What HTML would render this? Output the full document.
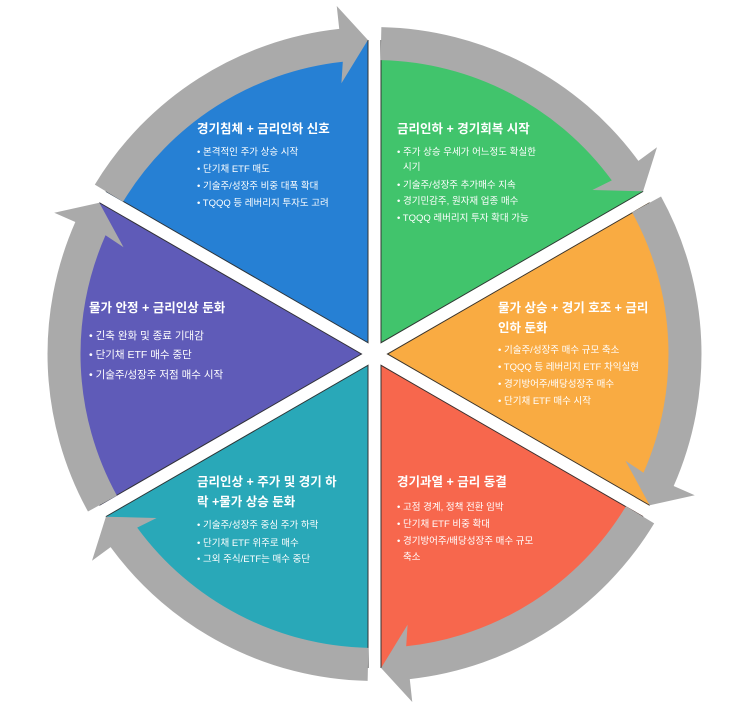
<!DOCTYPE html>
<html><head><meta charset="utf-8"><style>
html,body{margin:0;padding:0;background:#fff;width:743px;height:706px;overflow:hidden;}
svg{display:block;}
text{font-family:"Liberation Sans","Noto Sans CJK KR",sans-serif;fill:#fff;}
.t{font-size:12.5px;font-weight:bold;}
.b{font-size:9.5px;}
.p{font-size:10.5px;}
</style></head><body>
<svg width="743" height="706" viewBox="0 0 743 706" xmlns="http://www.w3.org/2000/svg">
<defs>
<path id="wedge" d="M374.5 354 L374.5 40 A314 314 0 0 1 646.4 197 Z"/>
<path id="arr" d="M381.35 27.1 A327 327 0 0 1 638.4 160.9 L657 147.3 L643.1 191.3 L592.4 190 L611.8 180.4 A294 294 0 0 0 380.66 60.1 Z" fill="#aaaaaa"/>
</defs>
<use href="#wedge" fill="#41c46c"/>
<use href="#wedge" fill="#f9ab42" transform="rotate(60 374.5 354)"/>
<use href="#wedge" fill="#f7674d" transform="rotate(120 374.5 354)"/>
<use href="#wedge" fill="#29a8b8" transform="rotate(180 374.5 354)"/>
<use href="#wedge" fill="#5f5bb8" transform="rotate(240 374.5 354)"/>
<use href="#wedge" fill="#2680d4" transform="rotate(300 374.5 354)"/>
<g stroke="#333" stroke-width="1">
<g><line x1="368" y1="40" x2="368" y2="668"/><line x1="381" y1="40" x2="381" y2="668"/></g>
<g transform="rotate(60 374.5 354)"><line x1="368" y1="40" x2="368" y2="668"/><line x1="381" y1="40" x2="381" y2="668"/></g>
<g transform="rotate(120 374.5 354)"><line x1="368" y1="40" x2="368" y2="668"/><line x1="381" y1="40" x2="381" y2="668"/></g>
</g>
<g stroke="#fff" stroke-width="12">
<line x1="374.5" y1="20" x2="374.5" y2="690"/>
<line x1="374.5" y1="20" x2="374.5" y2="690" transform="rotate(60 374.5 354)"/>
<line x1="374.5" y1="20" x2="374.5" y2="690" transform="rotate(120 374.5 354)"/>
</g>
<use href="#arr"/>
<use href="#arr" transform="rotate(60 374.5 354)"/>
<use href="#arr" transform="rotate(120 374.5 354)"/>
<use href="#arr" transform="rotate(180 374.5 354)"/>
<use href="#arr" transform="rotate(240 374.5 354)"/>
<use href="#arr" transform="rotate(300 374.5 354)"/>

<text class="t" x="197" y="133">경기침체 + 금리인하 신호</text>
<text class="b" x="197" y="155">• 본격적인 주가 상승 시작</text>
<text class="b" x="197" y="172">• 단기채 ETF 매도</text>
<text class="b" x="197" y="189">• 기술주/성장주 비중 대폭 확대</text>
<text class="b" x="197" y="206">• TQQQ 등 레버리지 투자도 고려</text>

<text class="t" x="397" y="133">금리인하 + 경기회복 시작</text>
<text class="b" x="397" y="155">• 주가 상승 우세가 어느정도 확실한</text>
<text class="b" x="403" y="170">시기</text>
<text class="b" x="397" y="188">• 기술주/성장주 추가매수 지속</text>
<text class="b" x="397" y="204">• 경기민감주, 원자재 업종 매수</text>
<text class="b" x="397" y="221">• TQQQ 레버리지 투자 확대 가능</text>

<text class="t" x="498" y="312">물가 상승 + 경기 호조 + 금리</text>
<text class="t" x="498" y="332">인하 둔화</text>
<text class="b" x="498" y="353">• 기술주/성장주 매수 규모 축소</text>
<text class="b" x="498" y="370">• TQQQ 등 레버리지 ETF 차익실현</text>
<text class="b" x="498" y="387">• 경기방어주/배당성장주 매수</text>
<text class="b" x="498" y="404">• 단기채 ETF 매수 시작</text>

<text class="t" x="89" y="312">물가 안정 + 금리인상 둔화</text>
<text class="p" x="89" y="339">• 긴축 완화 및 종료 기대감</text>
<text class="p" x="89" y="358">• 단기채 ETF 매수 중단</text>
<text class="p" x="89" y="378">• 기술주/성장주 저점 매수 시작</text>

<text class="t" x="197" y="486">금리인상  + 주가 및 경기 하</text>
<text class="t" x="197" y="506">락 +물가 상승 둔화</text>
<text class="b" x="197" y="528">• 기술주/성장주 중심 주가 하락</text>
<text class="b" x="197" y="546">• 단기채 ETF 위주로 매수</text>
<text class="b" x="197" y="562">• 그외 주식/ETF는 매수 중단</text>

<text class="t" x="397" y="486">경기과열 + 금리 동결</text>
<text class="b" x="397" y="510">• 고점 경계, 정책 전환 임박</text>
<text class="b" x="397" y="527">• 단기채 ETF 비중 확대</text>
<text class="b" x="397" y="544">• 경기방어주/배당성장주 매수 규모</text>
<text class="b" x="403" y="560">축소</text>
</svg>
</body></html>
